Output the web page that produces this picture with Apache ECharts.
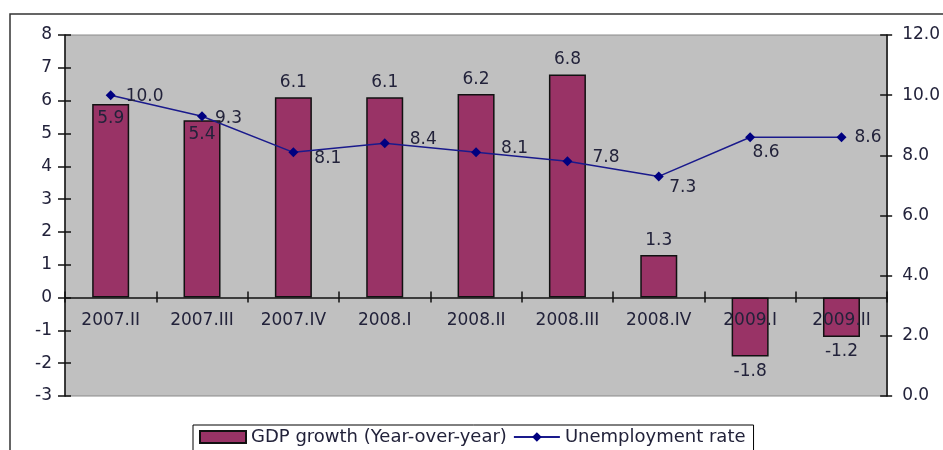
<!DOCTYPE html>
<html>
<head>
<meta charset="utf-8">
<script src="https://cdn.jsdelivr.net/npm/echarts@6/dist/echarts.min.js"></script>
<style>
html,body{margin:0;padding:0;background:#fff;}
#c{width:943px;height:450px;}
</style>
</head>
<body>
<div id="c"></div>
<script>
var categories = ['2007.II','2007.III','2007.IV','2008.I','2008.II','2008.III','2008.IV','2009.I','2009.II'];
var gdpGrowth = [5.9, 5.4, 6.1, 6.1, 6.2, 6.8, 1.3, -1.8, -1.2];
var unemployment = [10.0, 9.3, 8.1, 8.4, 8.1, 7.8, 7.3, 8.6, 8.6];
var barLabelPos = ['insideTop','insideTop','top','top','top','top','top','bottom','bottom'];
var lineLabelPos = ['right','right','right','right','right','right','bottom','bottom','right'];
var lineLabelOffset = [[2,1],[0,2],[8,6],[12,-4],[12,-4],[12,-4],[24,-10],[16,-6],[0,0]];

var FONT = 'DejaVu Sans';
var TXT = '#22223a';
var GRID_TOP = 35, GRID_BOTTOM = 54, H = 450;
var Y_MIN = -3, Y_MAX = 8;
var plotH = H - GRID_TOP - GRID_BOTTOM;
var zeroOffset = -plotH * (0 - Y_MIN) / (Y_MAX - Y_MIN);

var chart = echarts.init(document.getElementById('c'), null, {renderer:'canvas'});

var barData = gdpGrowth.map(function(v,i){
  return {value:v, label:{position:barLabelPos[i]}};
});
var lineData = unemployment.map(function(v,i){
  return {value:v, label:{position:lineLabelPos[i], offset:lineLabelOffset[i]}};
});

chart.setOption({
  animation:false,
  backgroundColor:'#ffffff',
  textStyle:{fontFamily:FONT},
  graphic:[{
    type:'rect', z:-10, silent:true,
    shape:{x:10, y:14, width:1000, height:1000},
    style:{fill:'none', stroke:'#333', lineWidth:1.5}
  }],
  grid:{left:65, top:GRID_TOP, right:55, bottom:GRID_BOTTOM, show:true, backgroundColor:'#c0c0c0', borderColor:'#8a8a8a', borderWidth:1},
  legend:{
    left:193, top:425,
    borderColor:'#000', borderWidth:1, padding:[3,8,6,6],
    itemGap:6, itemWidth:46, itemHeight:12,
    textStyle:{fontFamily:FONT, fontSize:18, color:TXT},
    data:[
      {name:'GDP growth (Year-over-year)', icon:'rect'},
      {name:'Unemployment rate'}
    ]
  },
  xAxis:[{
    type:'category', data:categories, position:'bottom', offset:zeroOffset, z:4,
    axisLine:{onZero:false, lineStyle:{color:'#111', width:1.5}},
    axisTick:{show:true, length:5, inside:false, lineStyle:{color:'#111', width:1.5}},
    axisLabel:{fontFamily:FONT, fontSize:17, color:TXT, margin:15},
    splitLine:{show:false}
  },{
    type:'category', data:categories, position:'bottom', offset:zeroOffset, z:4,
    axisLine:{onZero:false, show:false},
    axisTick:{show:true, length:6, inside:true, lineStyle:{color:'#111', width:1.5}},
    axisLabel:{show:false},
    splitLine:{show:false}
  }],
  yAxis:[{
    type:'value', position:'left', min:Y_MIN, max:Y_MAX, interval:1,
    axisLine:{show:true, lineStyle:{color:'#111', width:1.5}},
    axisTick:{show:true, length:7, lineStyle:{color:'#111', width:1.5}},
    axisLabel:{fontFamily:FONT, fontSize:17, color:TXT, margin:13},
    splitLine:{show:false}
  },{
    type:'value', position:'right', min:0, max:12, interval:2,
    axisLine:{show:true, lineStyle:{color:'#111', width:1.5}},
    axisTick:{show:true, length:5, lineStyle:{color:'#111', width:1.5}},
    axisLabel:{fontFamily:FONT, fontSize:17, color:TXT, margin:15, formatter:function(v){return v.toFixed(1);}},
    splitLine:{show:false}
  },{
    type:'value', position:'left', min:Y_MIN, max:Y_MAX, interval:1,
    axisLine:{show:false},
    axisTick:{show:true, length:6, inside:true, lineStyle:{color:'#111', width:1.5}},
    axisLabel:{show:false},
    splitLine:{show:false}
  },{
    type:'value', position:'right', min:0, max:12, interval:2,
    axisLine:{show:false},
    axisTick:{show:true, length:7, inside:true, lineStyle:{color:'#111', width:1.5}},
    axisLabel:{show:false},
    splitLine:{show:false}
  }],
  series:[{
    name:'GDP growth (Year-over-year)',
    type:'bar', xAxisIndex:0, yAxisIndex:0,
    data:barData, barWidth:37,
    itemStyle:{color:'#993366', borderColor:'#111', borderWidth:1.5},
    label:{show:true, fontFamily:FONT, fontSize:17, color:TXT, distance:6,
      formatter:function(p){return Number(p.value).toFixed(1);}}
  },{
    name:'Unemployment rate',
    type:'line', xAxisIndex:0, yAxisIndex:1,
    data:lineData,
    symbol:'diamond', symbolSize:10,
    lineStyle:{color:'#1a1a8c', width:1.5},
    itemStyle:{color:'#000080'},
    label:{show:true, fontFamily:FONT, fontSize:17, color:TXT, distance:8,
      formatter:function(p){return Number(p.value).toFixed(1);}},
    z:5
  }]
});
</script>
</body>
</html>
